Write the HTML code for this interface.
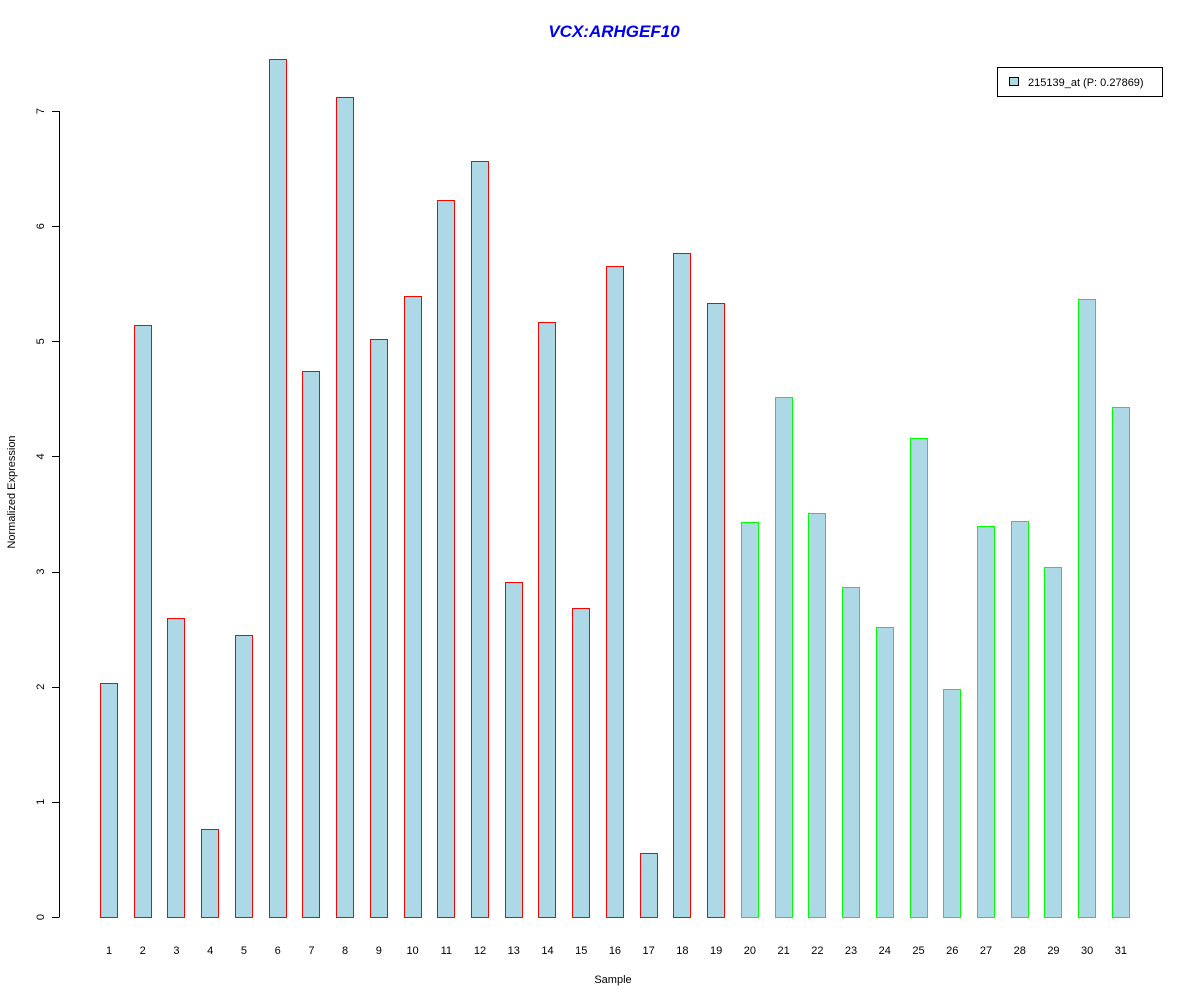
<!DOCTYPE html>
<html><head><meta charset="utf-8"><style>
body{margin:0;background:#fff;}
svg{display:block;font-family:"Liberation Sans",Arial,sans-serif;}
</style></head><body>
<svg id="chart" width="1200" height="1000">
<text x="614" y="37" text-anchor="middle" font-size="17" font-weight="bold" font-style="italic" fill="#0000ee">VCX:ARHGEF10</text>
<text x="613" y="983" text-anchor="middle" font-size="11" fill="#000">Sample</text>
<text transform="translate(15,492) rotate(-90)" text-anchor="middle" font-size="11" fill="#000">Normalized Expression</text>
<g id="yaxis"></g>
<g id="bars"></g>
<g id="xlabels"></g>
<g>
<rect x="997.5" y="67.5" width="165" height="29" fill="#fff" stroke="#000"/>
<rect x="1009.5" y="77.5" width="9" height="8" fill="#add8e6" stroke="#000"/>
<text x="1028" y="86" font-size="11" fill="#000">215139_at (P: 0.27869)</text>
</g>
</svg>
<script>
const categories = [1,2,3,4,5,6,7,8,9,10,11,12,13,14,15,16,17,18,19,20,21,22,23,24,25,26,27,28,29,30,31];
const values = [2.03,5.14,2.60,0.76,2.45,7.45,4.74,7.12,5.02,5.39,6.23,6.57,2.91,5.17,2.68,5.65,0.56,5.77,5.33,3.43,4.52,3.51,2.87,2.52,4.16,1.98,3.40,3.44,3.04,5.37,4.43];
const groups = ["a","a","a","a","a","a","a","a","a","a","a","a","a","a","a","a","a","a","a","b","b","b","b","b","b","b","b","b","b","b","b"];
const yTicks = [0,1,2,3,4,5,6,7];
const NS = "http://www.w3.org/2000/svg";
const y = v => 917 - v * (917 - 111) / 7;
const x = i => 100 + i * 33.73;
const bw = 17;
const ya = document.getElementById("yaxis");
const line = document.createElementNS(NS, "line");
line.setAttribute("x1", 59.5); line.setAttribute("x2", 59.5);
line.setAttribute("y1", y(0)); line.setAttribute("y2", y(7));
line.setAttribute("stroke", "#000");


ya.appendChild(line);
yTicks.forEach(t => {
  const tk = document.createElementNS(NS, "line");
  tk.setAttribute("x1", 52); tk.setAttribute("x2", 59.5);
  tk.setAttribute("y1", Math.round(y(t)) + 0.5); tk.setAttribute("y2", Math.round(y(t)) + 0.5);
  tk.setAttribute("stroke", "#000");
  
  
  ya.appendChild(tk);
  const tx = document.createElementNS(NS, "text");
  tx.setAttribute("transform", `translate(44,${y(t)}) rotate(-90)`);
  tx.setAttribute("text-anchor", "middle");
  tx.setAttribute("font-size", "11");
  tx.textContent = t;
  
  
  ya.appendChild(tx);
});
const bg = document.getElementById("bars"), xl = document.getElementById("xlabels");
values.forEach((v, i) => {
  const r = document.createElementNS(NS, "rect");
  r.setAttribute("x", Math.round(x(i)) + 0.5);
  r.setAttribute("y", Math.round(y(v)) + 0.5);
  r.setAttribute("width", bw);
  r.setAttribute("height", Math.round(y(0)) - Math.round(y(v)));
  r.setAttribute("fill", "#add8e6");
  r.setAttribute("stroke", groups[i] === "a" ? "#ff0000" : "#00ff00");
  
  
  bg.appendChild(r);
  const t = document.createElementNS(NS, "text");
  t.setAttribute("x", x(i) + bw / 2 + 0.5);
  t.setAttribute("y", 954);
  t.setAttribute("text-anchor", "middle");
  t.setAttribute("font-size", "11");
  t.textContent = categories[i];
  
  
  xl.appendChild(t);
});
</script>
</body></html>
